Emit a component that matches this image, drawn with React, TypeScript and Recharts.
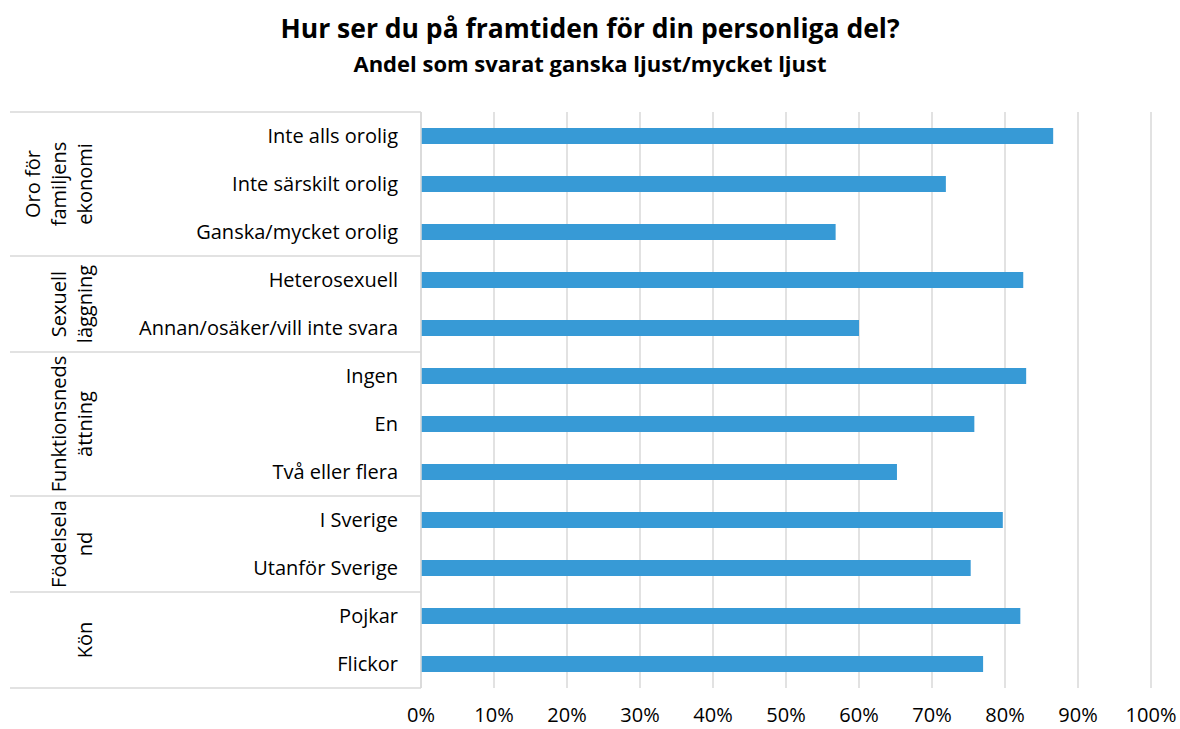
import React from 'react';
import { BarChart, Bar, XAxis, YAxis, CartesianGrid } from 'recharts';

const categories = [
  'Inte alls orolig',
  'Inte särskilt orolig',
  'Ganska/mycket orolig',
  'Heterosexuell',
  'Annan/osäker/vill inte svara',
  'Ingen',
  'En',
  'Två eller flera',
  'I Sverige',
  'Utanför Sverige',
  'Pojkar',
  'Flickor',
];
const values = [86.6, 71.9, 56.8, 82.5, 60.0, 82.9, 75.8, 65.2, 79.7, 75.3, 82.1, 77.0];
const groupLines = [
  ['Oro för', 'familjens', 'ekonomi'],
  ['Sexuell', 'läggning'],
  ['Funktionsneds', 'ättning'],
  ['Födelsela', 'nd'],
  ['Kön'],
];
const groupSizes = [3, 2, 3, 2, 2];
const xTicks = [0, 10, 20, 30, 40, 50, 60, 70, 80, 90, 100];

const data = categories.map((label, i) => ({ label, value: values[i] }));

const groupStarts: number[] = [];
groupSizes.reduce((acc, s) => {
  groupStarts.push(acc);
  return acc + s;
}, 0);

const W = 1180;
const H = 729;
const MARGIN = { top: 112, right: 29, bottom: 5, left: 0 };
const X_AXIS_H = 36;
const Y_AXIS_W = 421;
const BAND = (H - MARGIN.top - MARGIN.bottom - X_AXIS_H) / categories.length;
const FONT = '"Open Sans", "Noto Sans", sans-serif';
const GRID = '#d9d9d9';

const YTick = (props: any) => {
  const { x, y, payload } = props;
  const index = payload.index;
  const axisX = x + 23;
  const elems: React.ReactNode[] = [];
  const g = groupStarts.indexOf(index);
  if (g >= 0) {
    const top = y - BAND / 2;
    const mid = top + (groupSizes[g] * BAND) / 2;
    elems.push(<line key="sep" x1={10} x2={axisX} y1={top} y2={top} stroke={GRID} strokeWidth={1.5} />);
    const lines = groupLines[g];
    lines.forEach((ln, i) => {
      const bx = 92 - 26 * (lines.length - 1 - i);
      elems.push(
        <text
          key={'g' + i}
          x={bx}
          y={mid}
          transform={`rotate(-90, ${bx}, ${mid})`}
          textAnchor="middle"
          fontSize={20}
          fontFamily={FONT}
          fill="#000"
        >
          {ln}
        </text>
      );
    });
  }
  if (index === categories.length - 1) {
    const bot = y + BAND / 2;
    elems.push(<line key="bot" x1={10} x2={axisX} y1={bot} y2={bot} stroke={GRID} strokeWidth={1.5} />);
  }
  return (
    <g>
      {elems}
      <text x={x} y={y} dy="0.35em" textAnchor="end" fontSize={20} fontFamily={FONT} fill="#000">
        {payload.value}
      </text>
    </g>
  );
};

const XTick = (props: any) => {
  const { x, y, payload } = props;
  return (
    <text x={x} y={y + 34} textAnchor="middle" fontSize={20} fontFamily={FONT} fill="#000">
      {payload.value + '%'}
    </text>
  );
};

export default function App() {
  return (
    <div style={{ position: 'absolute', left: 0, top: 0, width: W, height: H, background: '#fff' }}>
      <div
        style={{
          position: 'absolute',
          left: 0,
          top: 15,
          width: W,
          textAlign: 'center',
          fontFamily: FONT,
          fontWeight: 'bold',
          fontSize: 26.5,
          color: '#000',
          lineHeight: '27px',
          whiteSpace: 'nowrap',
        }}
      >
        Hur ser du på framtiden för din personliga del?
      </div>
      <div
        style={{
          position: 'absolute',
          left: 0,
          top: 52,
          width: W,
          textAlign: 'center',
          fontFamily: FONT,
          fontWeight: 'bold',
          fontSize: 22,
          color: '#000',
          lineHeight: '22px',
          whiteSpace: 'nowrap',
        }}
      >
        Andel som svarat ganska ljust/mycket ljust
      </div>
      <BarChart width={W} height={H} data={data} layout="vertical" margin={MARGIN}>
        <CartesianGrid horizontal={false} vertical={true} stroke={GRID} strokeWidth={1.5} />
        <XAxis
          type="number"
          domain={[0, 100]}
          ticks={xTicks}
          interval={0}
          axisLine={false}
          tickLine={false}
          tickSize={0}
          tickMargin={0}
          height={X_AXIS_H}
          tick={<XTick />}
        />
        <YAxis
          type="category"
          dataKey="label"
          width={Y_AXIS_W}
          interval={0}
          axisLine={{ stroke: GRID, strokeWidth: 1.5 }}
          tickLine={false}
          tickSize={0}
          tickMargin={23}
          tick={<YTick />}
        />
        <Bar dataKey="value" fill="#379ad6" barSize={16} isAnimationActive={false} />
      </BarChart>
    </div>
  );
}
